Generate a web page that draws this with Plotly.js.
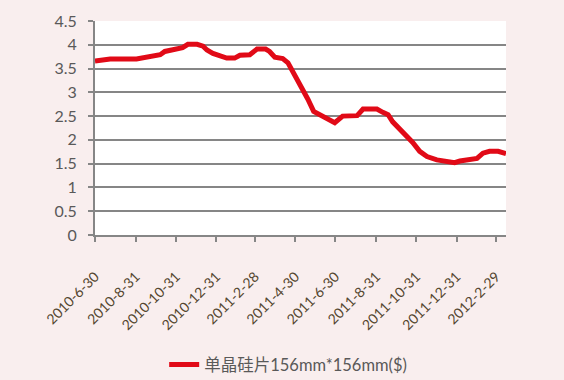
<!DOCTYPE html>
<html>
<head>
<meta charset="utf-8">
<script src="https://cdn.plot.ly/plotly-3.0.1.min.js"></script>
<style>html,body{margin:0;padding:0;background:#f9eeee;}#chart{width:564px;height:380px;}</style>
</head>
<body>
<div id="chart"></div>
<script>
const seriesName = "单晶硅片156mm*156mm($)";
const dates = [
"2010-06-30","2010-07-10","2010-07-23","2010-09-01","2010-09-14","2010-09-21","2010-10-07","2010-10-14",
"2010-11-01","2010-11-10","2010-11-18","2010-12-02","2010-12-11","2010-12-17","2010-12-26",
"2011-01-05","2011-01-16","2011-01-28","2011-02-05","2011-02-20","2011-03-03","2011-03-16","2011-03-22",
"2011-03-30","2011-04-11","2011-04-19","2011-04-30","2011-05-10","2011-05-19","2011-05-28","2011-06-06",
"2011-06-18","2011-06-29","2011-07-11","2011-08-02","2011-08-11","2011-09-01","2011-09-10","2011-09-18",
"2011-09-25","2011-10-06","2011-10-16","2011-10-25","2011-11-05","2011-11-16","2011-12-01","2011-12-16",
"2011-12-28","2012-01-05","2012-01-20","2012-01-31","2012-02-09","2012-02-19","2012-03-03","2012-03-15"
];
const prices = [
3.66,3.68,3.70,3.70,3.73,3.77,3.79,3.86,
3.92,3.94,4.01,4.01,3.97,3.89,3.82,
3.78,3.72,3.72,3.78,3.79,3.91,3.91,3.86,
3.74,3.71,3.62,3.35,3.10,2.86,2.60,2.54,
2.46,2.36,2.50,2.51,2.65,2.65,2.58,2.53,
2.38,2.22,2.10,1.95,1.76,1.65,1.58,1.555,
1.52,1.555,1.58,1.61,1.72,1.76,1.76,1.71
];
const tickDates = ["2010-06-30","2010-08-31","2010-10-31","2010-12-31","2011-02-28","2011-04-30",
"2011-06-30","2011-08-31","2011-10-31","2011-12-31","2012-02-29"];
const tickLabels = ["2010-6-30","2010-8-31","2010-10-31","2010-12-31","2011-2-28","2011-4-30",
"2011-6-30","2011-8-31","2011-10-31","2011-12-31","2012-2-29"];
const xRange = ["2010-06-30","2012-03-15"];

const trace = {
  x: dates, y: prices, type: "scatter", mode: "lines", name: seriesName,
  line: {color: "#e10a17", width: 5}
};
const layout = {
  width: 564, height: 380,
  paper_bgcolor: "#f9eeee", plot_bgcolor: "#ffffff",
  margin: {l: 95, r: 58, t: 21, b: 145, autoexpand: false},
  font: {family: "Lato, 'Noto Sans CJK SC', sans-serif", color: "#595959"},
  showlegend: true,
  legend: {orientation: "h", x: 0.47, xanchor: "center", y: -0.607, yanchor: "middle",
    bgcolor: "rgba(0,0,0,0)", font: {size: 16.5, color: "#595959", family: "Lato, 'Noto Sans CJK SC', sans-serif"}},
  xaxis: {
    type: "date", range: xRange, tickmode: "array", tickvals: tickDates, ticktext: tickLabels,
    tickangle: -45, showgrid: false, zeroline: false, showline: true, linecolor: "#868686", linewidth: 2,
    ticks: "outside", ticklen: 5, tickcolor: "#868686", tickwidth: 2, ticklabelstandoff: 21,
    automargin: false,
    tickfont: {size: 14, color: "#54462f"}
  },
  yaxis: {
    range: [0, 4.5], dtick: 0.5, tick0: 0, showgrid: true, gridcolor: "#868686", gridwidth: 2,
    zeroline: false, showline: true, linecolor: "#868686", linewidth: 2, automargin: false,
    ticks: "outside", ticklen: 5, tickcolor: "#868686", tickwidth: 2, ticklabelstandoff: 8,
    tickfont: {size: 16, color: "#595959"}
  }
};
Plotly.newPlot("chart", [trace], layout, {displayModeBar: false, staticPlot: true});
</script>
</body>
</html>
